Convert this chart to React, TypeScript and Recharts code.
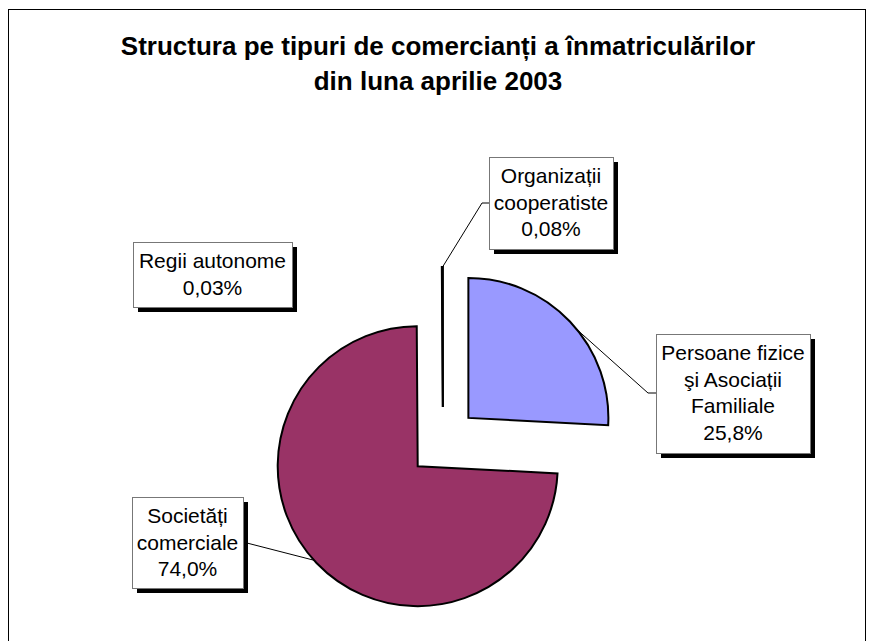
import React from 'react';
import { PieChart, Pie, Cell, Customized } from 'recharts';

// ---- data ----
const categories = [
  'Persoane fizice şi Asociații Familiale',
  'Societăți comerciale',
  'Regii autonome',
  'Organizații cooperatiste',
];
const categoryLines = [
  ['Persoane fizice', 'şi Asociații', 'Familiale'],
  ['Societăți', 'comerciale'],
  ['Regii autonome'],
  ['Organizații', 'cooperatiste'],
];
const values = [25.8, 74.0, 0.03, 0.08];
const valueLabels = ['25,8%', '74,0%', '0,03%', '0,08%'];
const colors = ['#9999FF', '#993366', '#000000', '#000000'];
const titleLines = ['Structura pe tipuri de comercianți a înmatriculărilor', 'din luna aprilie 2003'];

const data = categories.map((name, i) => ({ name, value: values[i] }));

// ---- layout ----
const W = 872;
const H = 641;
const CX = 443;
const CY = 442;
const R = 140;
const EXPLODE = 35;
const RAD = Math.PI / 180;
const FONT = 'Arial, "Liberation Sans", Helvetica, sans-serif';

// label boxes (manual placement, like the original chart)
const boxes: Record<number, { x: number; y: number; w: number; h: number; da: number; path?: number[][] }> = {
  0: { x: 656, y: 334, w: 154, h: 119, da: -4.5, path: [[648, 393], [656, 393]] },
  1: { x: 132, y: 497, w: 111, h: 91, da: -1.5, path: [[243, 542]] },
  2: { x: 133, y: 242, w: 159, h: 65, da: 0 },
  3: { x: 489, y: 157, w: 124, h: 92, da: 0, path: [[482, 203], [489, 203]] },
};

const total = values.reduce((a, b) => a + b, 0);
const midAngles: number[] = [];
{
  let acc = 0;
  values.forEach((v) => {
    const start = 90 - (360 * acc) / total;
    const mid = start - (360 * v) / total / 2;
    midAngles.push(mid);
    acc += v;
  });
}

const polar = (cx: number, cy: number, r: number, a: number) => ({
  x: cx + r * Math.cos(-a * RAD),
  y: cy + r * Math.sin(-a * RAD),
});

const makeLabel = (slice: number) => (props: any) => {
  if (props.index !== slice) return <g key={`e-${slice}-${props.index}`} />;
  const b = boxes[slice];
  const lines = [...categoryLines[slice], valueLabels[slice]];
  const start = polar(props.cx, props.cy, props.outerRadius, props.midAngle + b.da);
  const pts = b.path ? [[start.x, start.y], ...b.path] : null;
  const lh = 26.7;
  return (
    <g key={`l-${slice}`}>
      {pts && (
        <polyline
          points={pts.map((p) => p.join(',')).join(' ')}
          fill="none"
          stroke="#000"
          strokeWidth={1}
        />
      )}
      <rect x={b.x + 5} y={b.y + 5} width={b.w} height={b.h} fill="#000" />
      <rect x={b.x + 0.5} y={b.y + 0.5} width={b.w} height={b.h} fill="#fff" stroke="#777" strokeWidth={1} />
      {lines.map((t, k) => (
        <text
          key={k}
          x={b.x + b.w / 2}
          y={b.y + 26 + k * lh}
          textAnchor="middle"
          fontFamily={FONT}
          fontSize={21}
          fill="#000"
        >
          {t}
        </text>
      ))}
    </g>
  );
};

const Frame = () => (
  <g>
    <line x1={8.5} y1={10} x2={8.5} y2={H} stroke="#000" strokeWidth={1} />
    <line x1={8} y1={9.5} x2={865.5} y2={9.5} stroke="#000" strokeWidth={1} />
    <line x1={865.5} y1={9} x2={865.5} y2={H} stroke="#000" strokeWidth={1} />
    {titleLines.map((t, i) => (
      <text
        key={i}
        x={438}
        y={55 + i * 35}
        textAnchor="middle"
        fontFamily={FONT}
        fontWeight="bold"
        fontSize={26}
        fill="#000"
      >
        {t}
      </text>
    ))}
  </g>
);

export default function App() {
  return (
    <div style={{ position: 'absolute', left: 0, top: 0, width: W, height: H, background: '#fff' }}>
      <PieChart width={W} height={H} margin={{ top: 0, right: 0, bottom: 0, left: 0 }}>
        <Customized component={<Frame />} />
        {values.map((_, i) => {
          const cx = CX + EXPLODE * Math.cos(midAngles[i] * RAD);
          const cy = CY - EXPLODE * Math.sin(midAngles[i] * RAD);
          return (
            <Pie
              key={i}
              data={data}
              dataKey="value"
              nameKey="name"
              cx={cx}
              cy={cy}
              outerRadius={R}
              innerRadius={0}
              startAngle={90}
              endAngle={-270}
              isAnimationActive={false}
              labelLine={false}
              label={makeLabel(i)}
            >
              {data.map((_, j) => (
                <Cell
                  key={j}
                  fill={j === i ? colors[j] : 'none'}
                  stroke={j === i ? '#000' : 'none'}
                  strokeWidth={2}
                />
              ))}
            </Pie>
          );
        })}
      </PieChart>
    </div>
  );
}
